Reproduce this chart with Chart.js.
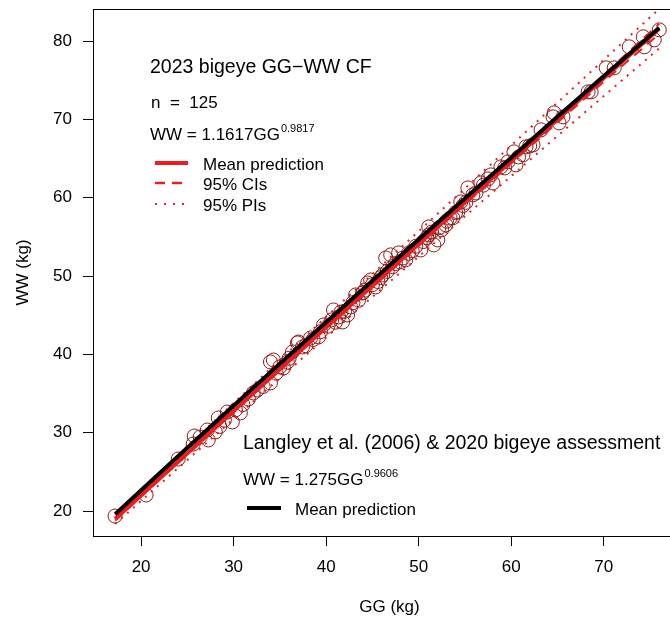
<!DOCTYPE html>
<html>
<head>
<meta charset="utf-8">
<script src="https://cdn.jsdelivr.net/npm/chart.js@4.4.0/dist/chart.umd.min.js"></script>
<style>
  html, body { margin: 0; padding: 0; background: white; overflow: hidden; }
  #wrap { width: 670px; height: 621px; overflow: hidden; }
  #chart { display: block; }
</style>
</head>
<body>
<div id="wrap"><canvas id="chart" width="686" height="621"></canvas></div>
<script>
const FONT = '"Liberation Sans", Arial, Helvetica, sans-serif';

// observed fish (kg): gilled-and-gutted weight vs whole weight
const ggObs = [
  17.18, 20.54, 24.01, 25.63, 25.74, 27.15, 26.39, 27.26, 28.02, 28.34,
  29.32, 29.86, 30.73, 32.13, 32.57, 33.98, 33.98, 34.30, 35.38, 36.36,
  36.90, 37.01, 37.44, 38.31, 39.18, 39.72, 40.80, 41.34, 41.78, 42.32,
  42.64, 43.19, 43.94, 44.49, 44.81, 45.35, 46.11, 46.44, 46.98, 47.84,
  48.60, 50.23, 51.09, 51.64, 52.07, 51.09, 52.18, 52.94, 53.69, 54.24,
  54.56, 55.32, 55.86, 56.73, 57.81, 58.03, 58.89, 59.65, 60.52, 60.30,
  61.28, 61.60, 62.36, 63.23, 64.53, 64.64, 65.18, 65.61, 68.32, 68.65,
  70.27, 71.14, 72.76, 74.39, 74.28, 75.47, 76.01,
  28.5, 29.0, 30.2, 31.0, 31.6, 33.2, 34.6, 35.0, 35.8, 36.0,
  37.8, 38.6, 39.4, 40.2, 40.6, 41.0, 41.6, 42.0, 42.9, 43.5,
  44.0, 44.2, 45.0, 45.6, 45.9, 46.6, 47.2, 47.5, 48.0, 48.3,
  48.9, 49.3, 49.7, 50.5, 50.9, 51.4, 52.5, 53.0, 53.4, 54.0,
  54.8, 55.1, 56.2, 57.0, 57.5, 59.3, 60.8, 62.0
];
const wwObs = [
  19.36, 22.04, 26.64, 28.56, 29.58, 30.34, 29.45, 29.07, 30.09, 31.88,
  32.64, 31.37, 32.52, 35.07, 35.45, 36.35, 39.03, 39.28, 38.26, 40.31,
  41.46, 41.58, 40.94, 42.09, 42.22, 43.75, 45.67, 44.78, 44.14, 45.03,
  46.05, 47.59, 47.84, 49.12, 49.50, 48.61, 50.14, 52.31, 52.70, 52.95,
  52.06, 53.33, 55.25, 53.97, 54.61, 56.27, 56.14, 56.53, 57.42, 58.19,
  59.46, 61.25, 60.36, 61.89, 62.91, 61.89, 63.93, 64.57, 64.19, 65.85,
  65.47, 66.49, 66.74, 68.66, 70.32, 70.83, 69.55, 70.32, 73.51, 73.51,
  76.58, 76.58, 79.26, 79.26, 80.54, 80.15, 81.43,
  30.8, 31.6, 32.9, 33.6, 34.3, 35.9, 37.6, 38.4, 39.0, 39.5,
  41.1, 41.9, 42.9, 43.6, 44.4, 44.1, 45.4, 45.5, 46.6, 46.9,
  47.9, 48.2, 48.9, 49.3, 49.8, 50.6, 51.2, 51.6, 51.8, 52.3,
  52.9, 53.2, 53.8, 54.4, 54.9, 55.6, 55.9, 57.0, 57.4, 58.1,
  59.0, 59.4, 60.6, 61.6, 62.4, 63.8, 65.2, 66.6
];

// curves at these GG values
const ggCurve   = [17.2, 20, 25, 30, 35, 40, 45, 50, 55, 60, 65, 70, 76];
const wwMean    = [18.97, 22.00, 27.38, 32.75, 38.11, 43.45, 48.77, 54.08, 59.38, 64.68, 69.97, 75.24, 81.56];
const wwCiLow   = [18.78, 21.82, 27.21, 32.59, 37.96, 43.28, 48.58, 53.86, 59.13, 64.38, 69.60, 74.80, 80.90];
const wwCiHigh  = [19.16, 22.18, 27.55, 32.91, 38.26, 43.62, 48.96, 54.30, 59.63, 64.98, 70.34, 75.68, 82.22];
const wwPiLow   = [18.35, 21.30, 26.52, 31.74, 36.96, 42.16, 47.33, 52.48, 57.62, 62.75, 67.87, 72.97, 79.06];
const wwPiHigh  = [19.60, 22.70, 28.25, 33.77, 39.29, 44.78, 50.24, 55.71, 61.18, 66.66, 72.13, 77.59, 84.10];
const wwLangley = [19.60, 22.66, 28.08, 33.45, 38.80, 44.11, 49.39, 54.65, 59.89, 65.11, 70.32, 75.50, 81.70];

const xTicks = [20, 30, 40, 50, 60, 70];
const yTicks = [20, 30, 40, 50, 60, 70, 80];

const RED = '#ee1c1c';
const PT = '#8e1a1a';

const pairs = (xs, ys) => xs.map((x, i) => ({ x, y: ys[i] }));

function curve(ys, color, width, dash, order) {
  return {
    data: pairs(ggCurve, ys),
    showLine: true,
    borderColor: color,
    borderWidth: width,
    borderDash: dash,
    pointRadius: 0,
    fill: false,
    tension: 0,
    order
  };
}

// box round the plot, plus the two text blocks and their keys
const decorations = {
  id: 'decorations',
  afterDatasetsDraw(chart) {
    const { ctx, chartArea: a } = chart;
    ctx.save();
    ctx.strokeStyle = '#000';
    ctx.lineWidth = 1;
    ctx.strokeRect(Math.round(a.left) + 0.5, Math.round(a.top) + 0.5,
      Math.round(a.right - a.left), Math.round(a.bottom - a.top));
    ctx.restore();
  },
  afterDraw(chart) {
    const ctx = chart.ctx;
    ctx.save();
    ctx.fillStyle = '#000';
    ctx.textBaseline = 'alphabetic';
    ctx.textAlign = 'left';

    const eq = (x, y, base, exp) => {
      ctx.font = '17px ' + FONT;
      ctx.fillText(base, x, y);
      const w = ctx.measureText(base).width;
      ctx.font = '11px ' + FONT;
      ctx.fillText(exp, x + w + 1, y - 8);
    };
    const key = (x1, x2, y, color, width, dash) => {
      ctx.beginPath();
      ctx.strokeStyle = color;
      ctx.lineWidth = width;
      ctx.setLineDash(dash);
      ctx.moveTo(x1, y);
      ctx.lineTo(x2, y);
      ctx.stroke();
      ctx.setLineDash([]);
    };

    ctx.font = '19.5px ' + FONT;
    ctx.fillText('2023 bigeye GG\u2212WW CF', 150, 73);
    ctx.font = '17px ' + FONT;
    ctx.fillText('n  =  125', 151, 108);
    eq(150, 140, 'WW = 1.1617GG', '0.9817');

    key(155, 188, 163, RED, 4, []);
    key(155, 188, 183, RED, 2.5, [10, 7]);
    key(155, 188, 204, RED, 2, [2, 7]);
    ctx.font = '17px ' + FONT;
    ctx.fillText('Mean prediction', 203, 170);
    ctx.fillText('95% CIs', 203, 190);
    ctx.fillText('95% PIs', 203, 211);

    ctx.font = '19.5px ' + FONT;
    ctx.fillText('Langley et al. (2006) & 2020 bigeye assessment', 243, 449);
    eq(243, 485, 'WW = 1.275GG', '0.9606');
    key(247, 281, 508, '#000', 4, []);
    ctx.font = '17px ' + FONT;
    ctx.fillText('Mean prediction', 295, 515);
    ctx.restore();
  }
};

new Chart(document.getElementById('chart'), {
  type: 'scatter',
  data: {
    datasets: [
      curve(wwLangley, '#000', 4, [], 0),
      curve(wwMean, RED, 4, [], 1),
      curve(wwCiLow, RED, 2, [10, 7], 2),
      curve(wwCiHigh, RED, 2, [10, 7], 2),
      curve(wwPiLow, RED, 2, [2, 6], 3),
      curve(wwPiHigh, RED, 2, [2, 6], 3),
      {
        data: pairs(ggObs, wwObs),
        pointStyle: 'circle',
        pointRadius: 7,
        pointBorderWidth: 1,
        pointBorderColor: PT,
        pointBackgroundColor: 'rgba(0,0,0,0)',
        order: 4
      }
    ]
  },
  options: {
    responsive: false,
    animation: false,
    events: [],
    layout: { autoPadding: false, padding: { top: 9, right: 0, left: 0, bottom: 0 } },
    plugins: { legend: { display: false }, tooltip: { enabled: false } },
    scales: {
      x: {
        type: 'linear',
        min: 14.8,
        max: 78.9,
        afterFit: s => {
          s.height = 85;
          s.paddingLeft = 0; s.paddingRight = 0;
        },
        afterBuildTicks: s => { s.ticks = xTicks.map(v => ({ value: v })); },
        grid: { drawOnChartArea: false, drawTicks: true, tickLength: 10, color: '#000', lineWidth: 1 },
        border: { display: false },
        ticks: { color: '#000', padding: 11, font: { family: FONT, size: 17 }, maxRotation: 0 },
        title: { display: true, text: 'GG (kg)', color: '#000', font: { family: FONT, size: 17 }, padding: { top: 0, bottom: 3 } }
      },
      y: {
        type: 'linear',
        min: 16.81,
        max: 84.09,
        afterFit: s => {
          s.width = 93;
          s.paddingTop = 0; s.paddingBottom = 0;
        },
        afterBuildTicks: s => { s.ticks = yTicks.map(v => ({ value: v })); },
        grid: { drawOnChartArea: false, drawTicks: true, tickLength: 10, color: '#000', lineWidth: 1 },
        border: { display: false },
        ticks: { color: '#000', padding: 11, font: { family: FONT, size: 17 } },
        title: { display: true, text: 'WW (kg)', color: '#000', font: { family: FONT, size: 17 }, padding: { top: 13, bottom: 0 } }
      }
    }
  },
  plugins: [decorations]
});
</script>
</body>
</html>
